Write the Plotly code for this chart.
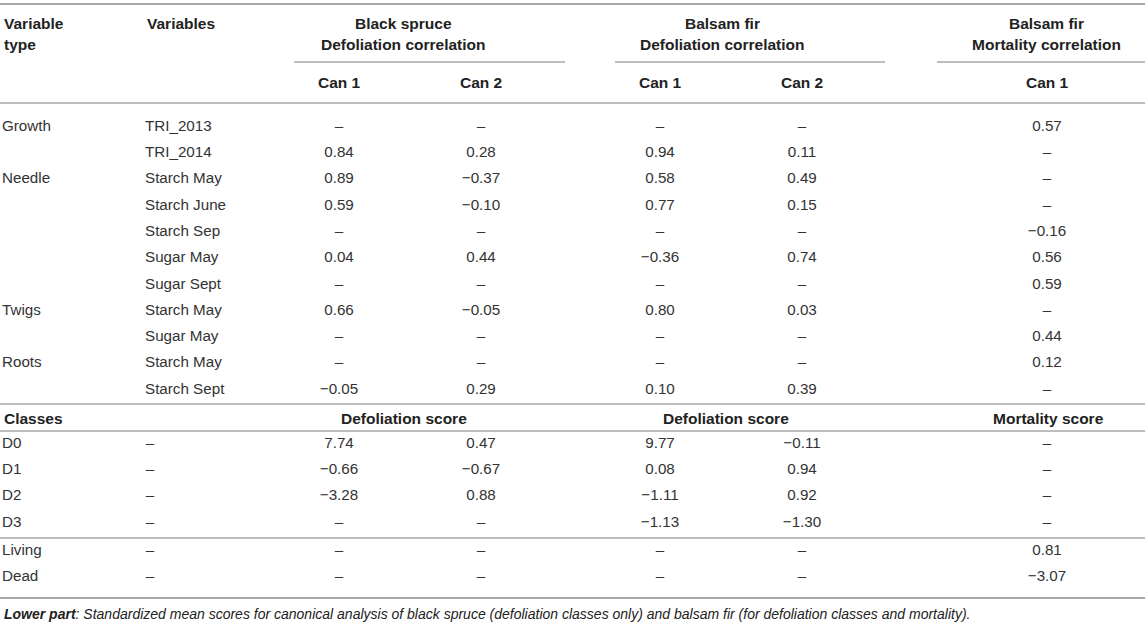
import plotly.graph_objects as go

# upper part: canonical correlations
var_types = ["Growth", "", "Needle", "", "", "", "", "Twigs", "", "Roots", ""]
variables = ["TRI_2013", "TRI_2014", "Starch May", "Starch June", "Starch Sep",
             "Sugar May", "Sugar Sept", "Starch May", "Sugar May", "Starch May", "Starch Sept"]
bs_can1 = [None, 0.84, 0.89, 0.59, None, 0.04, None, 0.66, None, None, -0.05]
bs_can2 = [None, 0.28, -0.37, -0.10, None, 0.44, None, -0.05, None, None, 0.29]
bf_can1 = [None, 0.94, 0.58, 0.77, None, -0.36, None, 0.80, None, None, 0.10]
bf_can2 = [None, 0.11, 0.49, 0.15, None, 0.74, None, 0.03, None, None, 0.39]
mort_can1 = [0.57, None, None, None, -0.16, 0.56, 0.59, None, 0.44, 0.12, None]

# lower part: standardized mean scores
classes = ["D0", "D1", "D2", "D3", "Living", "Dead"]
bs_score1 = [7.74, -0.66, -3.28, None, None, None]
bs_score2 = [0.47, -0.67, 0.88, None, None, None]
bf_score1 = [9.77, 0.08, -1.11, -1.13, None, None]
bf_score2 = [-0.11, 0.94, 0.92, -1.30, None, None]
mort_score = [None, None, None, None, 0.81, -3.07]

DASH = "\u2013"


def fmt(v):
    if v is None:
        return DASH
    return f"{v:.2f}".replace("-", "\u2212")


W, H = 1145, 627
FONT = "Liberation Sans, Arial, sans-serif"
TXT = "#333333"
HEAD = "#222222"
RULE = "#a8a8a8"

# column x positions (pixels)
X_TYPE, X_VAR = 3, 146
X_BS1, X_BS2, X_BF1, X_BF2, X_MO = 339, 481, 660, 802, 1047

# row y positions (pixels)
ROW0, STEP = 127, 26.3
body_y = [ROW0 + i * STEP for i in range(len(variables))]
cls_y = [444 + i * STEP for i in range(4)] + [551, 577.3]

fig = go.Figure()


def col(x, ys, texts, pos="middle center"):
    fig.add_trace(go.Scatter(
        x=[x] * len(ys), y=ys, text=texts, mode="text",
        textposition=pos, hoverinfo="skip", showlegend=False, cliponaxis=False,
        textfont=dict(family=FONT, size=15.2, color=TXT),
    ))


col(X_TYPE - 1, body_y, var_types, "middle right")
col(X_VAR - 1, body_y, variables, "middle right")
col(X_BS1, body_y, [fmt(v) for v in bs_can1])
col(X_BS2, body_y, [fmt(v) for v in bs_can2])
col(X_BF1, body_y, [fmt(v) for v in bf_can1])
col(X_BF2, body_y, [fmt(v) for v in bf_can2])
col(X_MO, body_y, [fmt(v) for v in mort_can1])

col(X_TYPE - 1, cls_y, classes, "middle right")
col(X_VAR + 4, cls_y, [DASH] * len(classes))
col(X_BS1, cls_y, [fmt(v) for v in bs_score1])
col(X_BS2, cls_y, [fmt(v) for v in bs_score2])
col(X_BF1, cls_y, [fmt(v) for v in bf_score1])
col(X_BF2, cls_y, [fmt(v) for v in bf_score2])
col(X_MO, cls_y, [fmt(v) for v in mort_score])

# headers
heads = [
    (X_TYPE, 23, "Variable", "left"), (X_TYPE, 44, "type", "left"),
    (X_VAR, 23, "Variables", "left"),
    (403, 23, "Black spruce", "center"), (403, 44, "Defoliation correlation", "center"),
    (722, 23, "Balsam fir", "center"), (722, 44, "Defoliation correlation", "center"),
    (1046, 23, "Balsam fir", "center"), (1046, 44, "Mortality correlation", "center"),
    (X_BS1, 82, "Can 1", "center"), (X_BS2, 82, "Can 2", "center"),
    (X_BF1, 82, "Can 1", "center"), (X_BF2, 82, "Can 2", "center"),
    (X_MO, 82, "Can 1", "center"),
    (X_TYPE, 418, "Classes", "left"),
    (404, 418, "Defoliation score", "center"),
    (726, 418, "Defoliation score", "center"),
    (1048, 418, "Mortality score", "center"),
]
for x, y, t, a in heads:
    fig.add_annotation(x=x, y=y, text=f"<b>{t}</b>", xref="x", yref="y",
                       showarrow=False, xanchor=a, yanchor="middle", borderpad=0,
                       font=dict(family=FONT, size=15.5, color=HEAD))

fig.add_annotation(
    x=X_TYPE, y=614, xref="x", yref="y", showarrow=False, xanchor="left", yanchor="middle",
    borderpad=0,
    text="<b><i>Lower part</i></b><i>: Standardized mean scores for canonical analysis of black "
         "spruce (defoliation classes only) and balsam fir (for defoliation classes and mortality).</i>",
    font=dict(family=FONT, size=14, color=HEAD),
)

# rules
rules = [
    (0, W, 4, 2), (294, 565, 62, 1.3), (615, 885, 62, 1.3), (937, W, 62, 1.3),
    (0, W, 103, 1.5), (0, W, 404, 1.5), (0, W, 431, 1.3), (0, W, 538, 1.3), (0, W, 598, 2),
]
for x0, x1, y, w in rules:
    fig.add_shape(type="line", x0=x0, x1=x1, y0=y, y1=y, xref="x", yref="y",
                  line=dict(color=RULE, width=w))

fig.update_layout(
    width=W, height=H, margin=dict(l=0, r=0, t=0, b=0),
    paper_bgcolor="white", plot_bgcolor="white",
    xaxis=dict(range=[0, W], visible=False, fixedrange=True),
    yaxis=dict(range=[H, 0], visible=False, fixedrange=True),
)

fig.write_html("out.html", config={"displayModeBar": False},
               post_script="document.body.style.margin='0';document.body.style.overflow='hidden';")
